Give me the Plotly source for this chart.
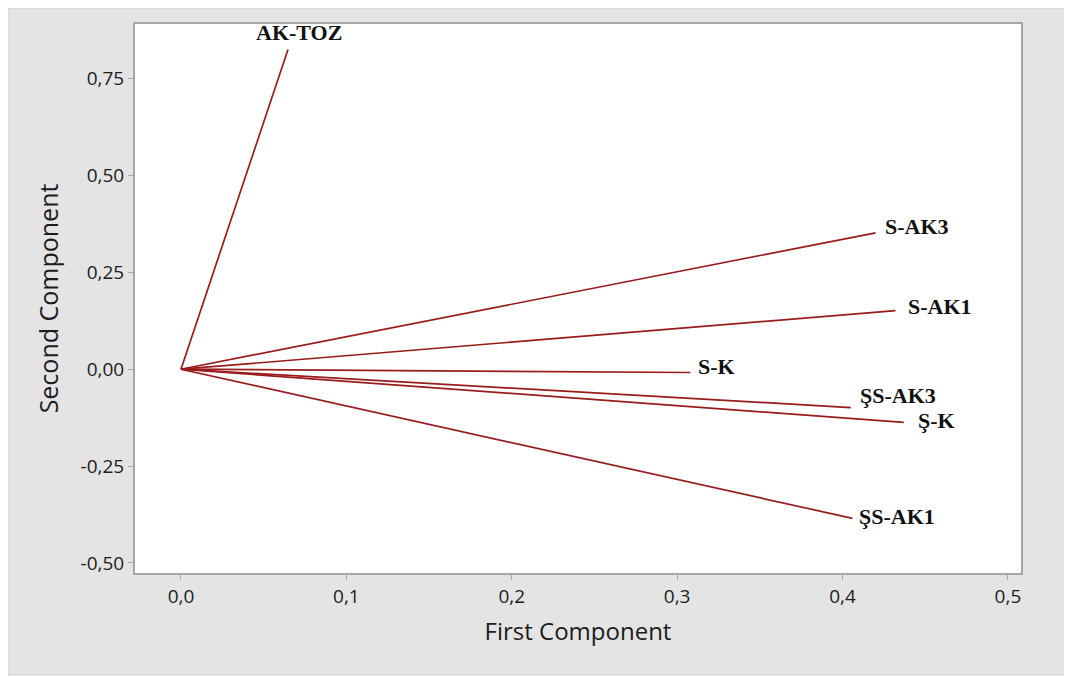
import plotly.graph_objects as go

# ---- data ----
variables = ["AK-TOZ", "S-AK3", "S-AK1", "S-K", "ŞS-AK3", "Ş-K", "ŞS-AK1"]
first_component = [0.0647, 0.420, 0.432, 0.308, 0.405, 0.437, 0.406]
second_component = [0.825, 0.352, 0.151, -0.0085, -0.099, -0.137, -0.385]

x_tickvals = [0.0, 0.1, 0.2, 0.3, 0.4, 0.5]
x_ticktext = ["0,0", "0,1", "0,2", "0,3", "0,4", "0,5"]
y_tickvals = [-0.50, -0.25, 0.0, 0.25, 0.50, 0.75]
y_ticktext = ["-0,50", "-0,25", "0,00", "0,25", "0,50", "0,75"]

# ---- styling ----
LINE_COLOR = "#991b1b"
TEXT_COLOR = "#1c1c1c"
label_style = {
    "AK-TOZ": dict(xanchor="center", xshift=11, yshift=17),
    "S-AK3": dict(xanchor="left", xshift=7, yshift=6),
    "S-AK1": dict(xanchor="left", xshift=11, yshift=4),
    "S-K": dict(xanchor="left", xshift=6, yshift=6),
    "ŞS-AK3": dict(xanchor="left", xshift=7, yshift=12),
    "Ş-K": dict(xanchor="left", xshift=12, yshift=2),
    "ŞS-AK1": dict(xanchor="left", xshift=5, yshift=2),
}

fig = go.Figure()
for name, px, py in zip(variables, first_component, second_component):
    fig.add_trace(go.Scatter(
        x=[0, px], y=[0, py], mode="lines",
        line=dict(color=LINE_COLOR, width=1.7),
        showlegend=False, hoverinfo="skip", name=name,
    ))
    st = label_style[name]
    fig.add_annotation(
        x=px, y=py, text="<b>%s</b>" % name, showarrow=False,
        xanchor=st["xanchor"], yanchor="middle",
        xshift=st["xshift"], yshift=st["yshift"],
        font=dict(family="Liberation Serif", size=22, color="#111111"),
    )

# layout geometry (figure pixels; page body adds an 8px offset)
L, T, R, B = 127, 16, 59, 112
pw, ph = 1072 - L - R, 677 - T - B

fig.add_shape(type="rect", xref="paper", yref="paper",
              x0=(0 - L) / pw, x1=(1062 - L) / pw,
              y0=-(667 - (677 - B)) / ph, y1=(T + ph) / ph,
              line=dict(width=1, color="#d2d2d2"), fillcolor="#e4e4e4", layer="below")
fig.add_shape(type="rect", xref="paper", yref="paper",
              x0=0, x1=1, y0=0, y1=1,
              line=dict(width=0), fillcolor="white", layer="below")

fig.update_layout(
    width=1072, height=677,
    margin=dict(l=L, r=R, t=T, b=B),
    paper_bgcolor="white",
    plot_bgcolor="white",
    font=dict(family="Open Sans", color=TEXT_COLOR),
    xaxis=dict(
        range=[-0.0278, 0.5079],
        tickvals=x_tickvals, ticktext=x_ticktext,
        showgrid=False, zeroline=False,
        showline=True, linecolor="#a6a6a6", linewidth=2, mirror=True,
        ticks="outside", ticklen=5, tickcolor="#a6a6a6", tickwidth=1,
        tickfont=dict(size=19, color=TEXT_COLOR),
        title=dict(text="First Component", font=dict(size=24, color=TEXT_COLOR), standoff=15),
    ),
    yaxis=dict(
        range=[-0.526, 0.891],
        tickvals=y_tickvals, ticktext=y_ticktext,
        showgrid=False, zeroline=False,
        showline=True, linecolor="#a6a6a6", linewidth=2, mirror=True,
        ticks="outside", ticklen=5, tickcolor="#a6a6a6", tickwidth=1,
        tickfont=dict(size=19, color=TEXT_COLOR),
        title=dict(text="Second Component", font=dict(size=25, color=TEXT_COLOR), standoff=15),
    ),
)

fig.write_html("out.html")
